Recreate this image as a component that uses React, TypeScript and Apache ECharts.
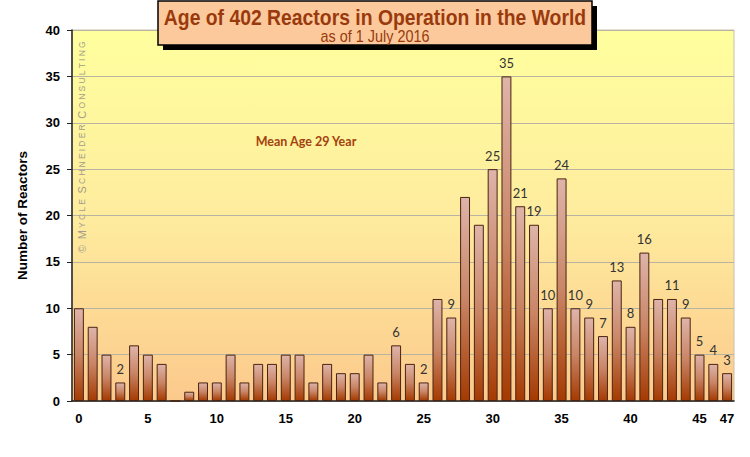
import React, { useEffect, useRef } from "react";
import * as echarts from "echarts";

const ages: string[] = Array.from({ length: 48 }, (_, i) => String(i));
const reactorCounts: number[] = [
  10, 8, 5, 2, 6, 5, 4, 0, 1, 2, 2, 5, 2, 4, 4, 5, 5, 2, 4, 3, 3, 5, 2, 6, 4, 2,
  11, 9, 22, 19, 25, 35, 21, 19, 10, 24, 10, 9, 7, 13, 8, 16, 11, 11, 9, 5, 4, 3,
];
const labeledAges: number[] = [3, 23, 25, 27, 30, 31, 32, 33, 34, 35, 36, 37, 38, 39, 40, 41, 43, 44, 45, 46, 47];
const yTicks: number[] = [0, 5, 10, 15, 20, 25, 30, 35, 40];
const titleText = "Age of 402 Reactors in Operation in the World";
const subtitleText = "as of 1 July 2016";
const meanText = "Mean Age 29 Year";
const watermarkText = "© Mycle Schneider Consulting";

export default function App() {
  const ref = useRef<HTMLDivElement>(null);
  useEffect(() => {
    if (!ref.current) return;
    const chart = echarts.init(ref.current, null, { renderer: "svg" });
    const barGradient = new echarts.graphic.LinearGradient(0, 0, 0, 1, [
      { offset: 0, color: "#DEB4AA" },
      { offset: 0.5, color: "#C98566" },
      { offset: 1, color: "#A53A02" },
    ]);
    const bgGradient = new echarts.graphic.LinearGradient(0, 0, 0, 1, [
      { offset: 0, color: "#FFFF9E" },
      { offset: 0.5, color: "#FEEC9E" },
      { offset: 1, color: "#FCC98C" },
    ]);
    // small-caps watermark with letter spacing
    const tokens: string[] = [];
    const words = watermarkText.split(" ");
    words.forEach((word, wi) => {
      if (word === "©") {
        tokens.push("{c|©}");
      } else {
        const chars = word.split("");
        chars.forEach((ch, ci) => {
          tokens.push(ci === 0 ? `{b|${ch.toUpperCase()}}` : `{s|${ch.toUpperCase()}}`);
          if (ci < chars.length - 1) tokens.push("{g|\u2009}");
        });
      }
      if (wi < words.length - 1) tokens.push("{w|\u00A0\u00A0}");
    });
    chart.setOption({
      animation: false,
      backgroundColor: "#ffffff",
      grid: {
        left: 72,
        right: 16,
        top: 30,
        bottom: 56,
        show: true,
        backgroundColor: bgGradient,
        borderColor: "#c8c0a8",
        borderWidth: 1,
      },
      xAxis: {
        type: "category",
        data: ages,
        axisLine: { lineStyle: { color: "#222", width: 1.5 } },
        axisTick: { interval: 0, length: 5, lineStyle: { color: "#222" } },
        axisLabel: {
          interval: (i: number) => i % 5 === 0 || i === 47,
          fontFamily: "Liberation Sans, Arial",
          fontWeight: "bold",
          fontSize: 13,
          color: "#000",
          margin: 11,
        },
      },
      yAxis: {
        type: "value",
        min: yTicks[0],
        max: yTicks[yTicks.length - 1],
        interval: 5,
        name: "Number of Reactors",
        nameLocation: "middle",
        nameGap: 43,
        nameTextStyle: { fontFamily: "Liberation Sans, Arial", fontWeight: "bold", fontSize: 13.5, color: "#000" },
        axisLine: { show: true, lineStyle: { color: "#222", width: 1.5 } },
        axisTick: { show: true, length: 5, lineStyle: { color: "#222" } },
        axisLabel: { fontFamily: "Liberation Sans, Arial", fontWeight: "bold", fontSize: 13, color: "#000", margin: 12 },
        splitLine: { show: true, lineStyle: { color: "#b9b3a3", width: 1 } },
      },
      series: [
        {
          type: "bar",
          barCategoryGap: "28%",
          data: reactorCounts.map((v, i) => ({
            value: v,
            label: { show: labeledAges.includes(i) },
          })),
          itemStyle: { color: barGradient, borderColor: "#4a2410", borderWidth: 1 },
          label: {
            position: "top",
            distance: 7,
            fontFamily: "Lato, Open Sans, sans-serif",
            fontSize: 13,
            color: "#333",
          },
        },
      ],
      graphic: [
        {
          type: "rect",
          shape: { x: 163, y: 6, width: 434, height: 44 },
          style: { fill: "#000" },
          z: 100,
        },
        {
          type: "rect",
          shape: { x: 158, y: 1, width: 434, height: 44 },
          style: { fill: "#FBC99C", stroke: "#000", lineWidth: 1.5 },
          z: 101,
        },
        {
          type: "text",
          x: 375,
          y: 17,
          scaleX: 0.88,
          z: 102,
          style: {
            text: titleText,
            fontFamily: "Liberation Sans, Arial",
            fontWeight: "bold",
            fontSize: 22,
            fill: "#9A3A0C",
            align: "center",
            verticalAlign: "middle",
          },
        },
        {
          type: "text",
          x: 375,
          y: 36,
          scaleX: 0.9,
          z: 102,
          style: {
            text: subtitleText,
            fontFamily: "Liberation Sans, Arial",
            fontSize: 16,
            fill: "#9A3A0C",
            align: "center",
            verticalAlign: "middle",
          },
        },
        {
          type: "text",
          x: 306,
          y: 141,
          z: 50,
          style: {
            text: meanText,
            fontFamily: "Lato, Open Sans, sans-serif",
            fontWeight: "bold",
            fontSize: 12.5,
            fill: "#A3420E",
            align: "center",
            verticalAlign: "middle",
          },
        },
        {
          type: "text",
          x: 82,
          y: 147,
          rotation: Math.PI / 2,
          z: 50,
          style: {
            text: tokens.join(""),
            align: "center",
            verticalAlign: "middle",
            fill: "#a39d8a",
            rich: {
              c: { fontSize: 10.5, fontFamily: "Liberation Sans, Arial", fill: "#a39d8a" },
              b: { fontSize: 11, fontFamily: "Liberation Sans, Arial", fill: "#a39d8a" },
              s: { fontSize: 8.5, fontFamily: "Liberation Sans, Arial", fill: "#a39d8a" },
              g: { fontSize: 11, fontFamily: "Liberation Sans, Arial" },
              w: { fontSize: 10, fontFamily: "Liberation Sans, Arial" },
            },
          },
        },
      ],
    });
    return () => chart.dispose();
  }, []);
  return <div ref={ref} style={{ position: "absolute", left: 0, top: 0, width: 750, height: 457 }} />;
}
